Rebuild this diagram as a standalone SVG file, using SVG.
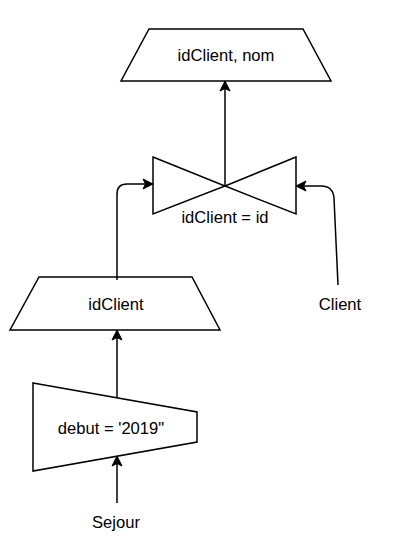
<svg xmlns="http://www.w3.org/2000/svg" width="411" height="547" viewBox="0 0 411 547">
<defs>
<style>
.s{fill:#fff;stroke:#000;stroke-width:1.5;stroke-linejoin:miter}
.c{fill:none;stroke:#000;stroke-width:1.5}
.t{font-family:"Liberation Sans",Arial,sans-serif;font-size:16.6px;fill:#000;text-anchor:middle}
</style>
<marker id="ah" markerWidth="12" markerHeight="12" viewBox="0 0 12 12" refX="11" refY="6" orient="auto" markerUnits="userSpaceOnUse">
<path d="M1,1 L11,6 L1,11 L3.5,6 Z" fill="#000" stroke="#000" stroke-width="1"/>
</marker>
</defs>
<rect width="411" height="547" fill="#fff"/>
<g id="projection-top">
<polygon class="s" points="149,29 303,29 331,81 121,81"/>
<text class="t" x="226" y="61">idClient, nom</text>
</g>
<g id="join">
<polygon class="s" points="153,157 225,186 153,214"/>
<polygon class="s" points="296,157 225,186 296,214"/>
<text class="t" x="225" y="223">idClient = id</text>
</g>
<g id="projection-idClient">
<polygon class="s" points="39,277 192,277 220,330 10,330"/>
<text class="t" x="116" y="310">idClient</text>
</g>
<g id="selection">
<polygon class="s" points="33,383 197,412 197,442 33,471"/>
<text class="t" x="111" y="434">debut = '2019"</text>
</g>
<g id="client">
<text class="t" x="340" y="310">Client</text>
</g>
<g id="sejour">
<text class="t" x="116" y="528">Sejour</text>
</g>
<g id="connectors">
<path class="c" d="M225,186 L225,81" marker-end="url(#ah)"/>
<path class="c" d="M117,280 L117,194 Q117,184 127,184 L153,184" marker-end="url(#ah)"/>
<path class="c" d="M338,285 L334,198 Q333,186 321,186 L296,186" marker-end="url(#ah)"/>
<path class="c" d="M117,398 L117,330" marker-end="url(#ah)"/>
<path class="c" d="M117,503 L117,456" marker-end="url(#ah)"/>
</g>
</svg>
